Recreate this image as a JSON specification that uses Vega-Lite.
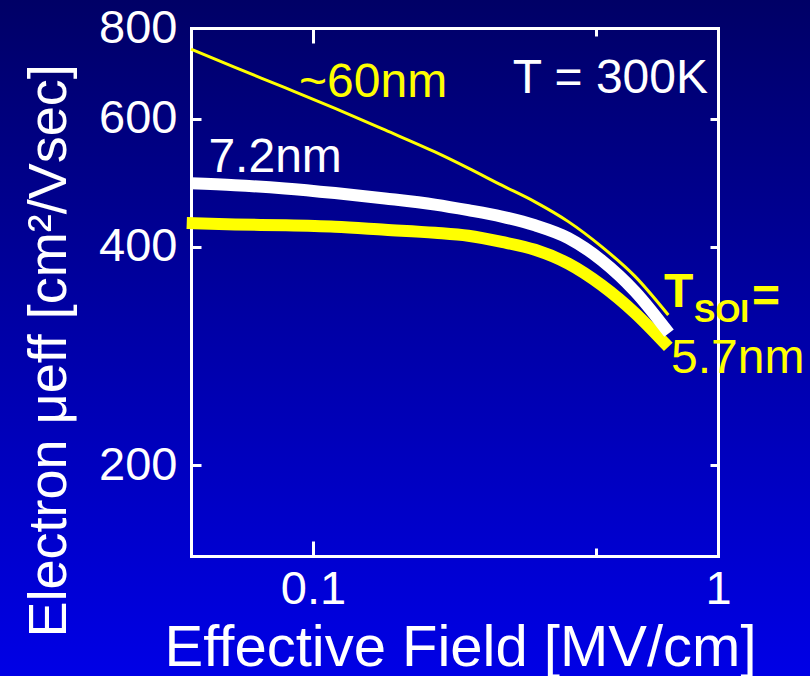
{
  "$schema": "https://vega.github.io/schema/vega-lite/v6.json",
  "width": 810,
  "height": 676,
  "autosize": {"type": "none"},
  "padding": 0,
  "background": "#0000a8",
  "view": {
    "stroke": null,
    "fill": {"gradient": "linear", "x1": 0, "y1": 0, "x2": 0, "y2": 1,
      "stops": [{"offset": 0, "color": "#000066"}, {"offset": 0.5, "color": "#0000a8"}, {"offset": 1, "color": "#0000e6"}]}
  },
  "config": {
    "axis": {"labelFont": "Liberation Sans", "titleFont": "Liberation Sans", "grid": false, "titleLimit": 2000},
    "text": {"font": "Liberation Sans"}
  },
  "datasets": {
    "curves": [
      {"series": "thick", "field": 0.0488, "mobility": 431},
      {"series": "thick", "field": 0.0642, "mobility": 429},
      {"series": "thick", "field": 0.0853, "mobility": 428},
      {"series": "thick", "field": 0.1134, "mobility": 426},
      {"series": "thick", "field": 0.1506, "mobility": 422},
      {"series": "thick", "field": 0.2001, "mobility": 418},
      {"series": "thick", "field": 0.2418, "mobility": 414},
      {"series": "thick", "field": 0.2924, "mobility": 406},
      {"series": "thick", "field": 0.3534, "mobility": 396},
      {"series": "thick", "field": 0.4271, "mobility": 379},
      {"series": "thick", "field": 0.516, "mobility": 354},
      {"series": "thick", "field": 0.624, "mobility": 324},
      {"series": "thick", "field": 0.754, "mobility": 291},
      {"series": "white", "field": 0.05, "mobility": 489},
      {"series": "white", "field": 0.0642, "mobility": 486},
      {"series": "white", "field": 0.0853, "mobility": 481},
      {"series": "white", "field": 0.1134, "mobility": 474},
      {"series": "white", "field": 0.1506, "mobility": 466},
      {"series": "white", "field": 0.2001, "mobility": 457},
      {"series": "white", "field": 0.2418, "mobility": 449},
      {"series": "white", "field": 0.2924, "mobility": 440},
      {"series": "white", "field": 0.3534, "mobility": 428},
      {"series": "white", "field": 0.4271, "mobility": 411},
      {"series": "white", "field": 0.516, "mobility": 383},
      {"series": "white", "field": 0.624, "mobility": 347},
      {"series": "white", "field": 0.757, "mobility": 304},
      {"series": "thin", "field": 0.05, "mobility": 748},
      {"series": "thin", "field": 0.0642, "mobility": 706},
      {"series": "thin", "field": 0.0853, "mobility": 662},
      {"series": "thin", "field": 0.1134, "mobility": 620},
      {"series": "thin", "field": 0.1506, "mobility": 579},
      {"series": "thin", "field": 0.2001, "mobility": 540},
      {"series": "thin", "field": 0.2418, "mobility": 513},
      {"series": "thin", "field": 0.2924, "mobility": 486},
      {"series": "thin", "field": 0.3534, "mobility": 461},
      {"series": "thin", "field": 0.4271, "mobility": 433},
      {"series": "thin", "field": 0.516, "mobility": 400},
      {"series": "thin", "field": 0.624, "mobility": 364},
      {"series": "thin", "field": 0.754, "mobility": 322}
    ]
  },
  "resolve": {"axis": {"x": "independent", "y": "independent"}},
  "layer": [
    {
      "data": {"name": "curves"},
      "transform": [{"filter": "datum.series == 'thick'"}],
      "mark": {"type": "line", "color": "#ffff00", "strokeWidth": 12, "strokeCap": "butt", "interpolate": "monotone"},
      "encoding": {
        "x": {"field": "field", "type": "quantitative",
          "scale": {"type": "log", "domain": [0.05, 1], "range": [191, 718], "nice": false},
          "axis": {"orient": "bottom", "offset": -120, "values": [0.1, 0.5, 1],
            "labelExpr": "datum.value == 0.1 ? '0.1' : (datum.value == 1 ? '1' : '')",
            "tickSize": {"condition": {"test": "datum.value == 0.5", "value": -8}, "value": -15},
            "tickColor": "#ffffff", "tickWidth": 3, "domainColor": "#ffffff", "domainWidth": 3, "domainCap": "square",
            "labelColor": "#ffffff", "labelFontSize": 47, "labelPadding": 62, "labelBaseline": "alphabetic",
            "labelFlush": false, "labelOverlap": false, "labelBound": false,
            "title": "Effective Field [MV/cm]", "titleColor": "#ffffff", "titleFontSize": 58, "titleFontWeight": "normal", "titleLimit": 2000,
            "titleX": 460, "titleY": 109, "titleAlign": "center", "titleBaseline": "alphabetic", "titleAnchor": null}},
        "y": {"field": "mobility", "type": "quantitative",
          "scale": {"type": "log", "domain": [150, 800], "range": [556, 28], "nice": false},
          "axis": {"orient": "left", "offset": -191, "values": [200, 400, 600, 800],
            "tickSize": -10, "tickColor": "#ffffff", "tickWidth": 3, "domainColor": "#ffffff", "domainWidth": 3, "domainCap": "square",
            "labelColor": "#ffffff", "labelFontSize": 47, "labelPadding": 24, "labelBaseline": "middle",
            "labelFlush": false, "labelOverlap": false, "labelBound": false,
            "title": "Electron μeff [cm²/Vsec]", "titleColor": "#ffffff", "titleFontSize": 54, "titleFontWeight": "normal", "titleLimit": 2000,
            "titleX": -126, "titleY": 637, "titleAngle": -90, "titleAlign": "left", "titleBaseline": "alphabetic", "titleAnchor": null}}
      }
    },
    {
      "data": {"name": "curves"},
      "transform": [{"filter": "datum.series == 'white'"}],
      "mark": {"type": "line", "color": "#ffffff", "strokeWidth": 12, "strokeCap": "butt", "interpolate": "monotone"},
      "encoding": {
        "x": {"field": "field", "type": "quantitative",
          "scale": {"type": "log", "domain": [0.05, 1], "range": [191, 718], "nice": false},
          "axis": {"orient": "top", "offset": -28, "values": [0.1, 0.5, 1], "labels": false,
            "tickSize": {"condition": {"test": "datum.value == 0.5", "value": -8}, "value": -15},
            "tickColor": "#ffffff", "tickWidth": 3, "domainColor": "#ffffff", "domainWidth": 3, "domainCap": "square", "title": null}},
        "y": {"field": "mobility", "type": "quantitative",
          "scale": {"type": "log", "domain": [150, 800], "range": [556, 28], "nice": false},
          "axis": {"orient": "right", "offset": -92, "values": [200, 400, 600], "labels": false,
            "tickSize": -8, "tickColor": "#ffffff", "tickWidth": 3, "domainColor": "#ffffff", "domainWidth": 3, "domainCap": "square", "title": null}}
      }
    },
    {
      "data": {"name": "curves"},
      "transform": [{"filter": "datum.series == 'thin'"}],
      "mark": {"type": "line", "color": "#ffff00", "strokeWidth": 3, "strokeCap": "butt", "interpolate": "monotone"},
      "encoding": {
        "x": {"field": "field", "type": "quantitative", "scale": {"type": "log", "domain": [0.05, 1], "range": [191, 718], "nice": false}, "axis": null},
        "y": {"field": "mobility", "type": "quantitative", "scale": {"type": "log", "domain": [150, 800], "range": [556, 28], "nice": false}, "axis": null}
      }
    },
    {
      "data": {"values": [{"label": "~60nm", "field": 0.0924, "mobility": 643}]},
      "mark": {"type": "text", "align": "left", "baseline": "alphabetic", "fontSize": 48, "color": "#ffff00"},
      "encoding": {"text": {"field": "label"}, "x": {"field": "field", "type": "quantitative", "axis": null}, "y": {"field": "mobility", "type": "quantitative", "axis": null}}
    },
    {
      "data": {"values": [{"label": "T = 300K", "field": 0.9447, "mobility": 651}]},
      "mark": {"type": "text", "align": "right", "baseline": "alphabetic", "fontSize": 48, "color": "#ffffff"},
      "encoding": {"text": {"field": "label"}, "x": {"field": "field", "type": "quantitative", "axis": null}, "y": {"field": "mobility", "type": "quantitative", "axis": null}}
    },
    {
      "data": {"values": [{"label": "7.2nm", "field": 0.0552, "mobility": 506.8}]},
      "mark": {"type": "text", "align": "left", "baseline": "alphabetic", "fontSize": 48, "color": "#ffffff"},
      "encoding": {"text": {"field": "label"}, "x": {"field": "field", "type": "quantitative", "axis": null}, "y": {"field": "mobility", "type": "quantitative", "axis": null}}
    },
    {
      "data": {"values": [{"label": "5.7nm", "field": 0.7655, "mobility": 268}]},
      "mark": {"type": "text", "align": "left", "baseline": "alphabetic", "fontSize": 48, "color": "#ffff00"},
      "encoding": {"text": {"field": "label"}, "x": {"field": "field", "type": "quantitative", "axis": null}, "y": {"field": "mobility", "type": "quantitative", "axis": null}}
    },
    {
      "data": {"values": [{"label": "T", "field": 0.736, "mobility": 330.4}, {"label": "=", "field": 1.213, "mobility": 325.5}]},
      "mark": {"type": "text", "align": "left", "baseline": "alphabetic", "fontSize": 48, "fontWeight": "bold", "color": "#ffff00"},
      "encoding": {"text": {"field": "label"}, "x": {"field": "field", "type": "quantitative", "axis": null}, "y": {"field": "mobility", "type": "quantitative", "axis": null}}
    },
    {
      "data": {"values": [{"label": "SOI", "field": 0.8727, "mobility": 315}]},
      "mark": {"type": "text", "align": "left", "baseline": "alphabetic", "fontSize": 32, "fontWeight": "bold", "color": "#ffff00"},
      "encoding": {"text": {"field": "label"}, "x": {"field": "field", "type": "quantitative", "axis": null}, "y": {"field": "mobility", "type": "quantitative", "axis": null}}
    }
  ]
}
